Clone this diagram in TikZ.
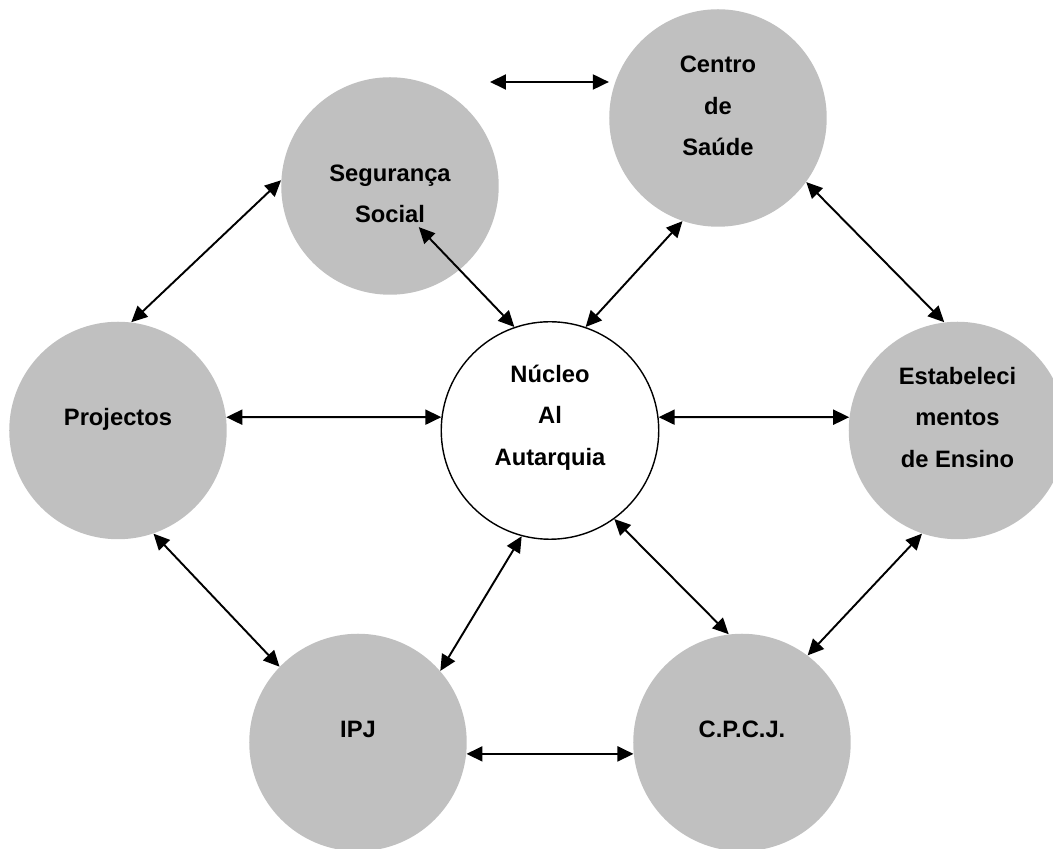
\documentclass[tikz,border=0pt]{standalone}
\usepackage{fontspec}
\setmainfont{Liberation Sans}
\usepackage{tikz}
\usetikzlibrary{calc,arrows.meta}
\definecolor{silverfill}{RGB}{192,192,192}
\tikzstyle{bubble}= [circle, fill=silverfill, inner sep=0pt, minimum size=4.35cm]
\tikzstyle{hub}= [circle, draw, fill=white, line width=0.8pt, inner sep=0pt, minimum size=4.35cm]
\tikzstyle{txt}= [align=center, font=\fontsize{13.5}{23.6}\selectfont\bfseries, inner sep=0pt]
\tikzstyle{link}= [{Triangle[length=3.2mm,width=3mm]}-{Triangle[length=3.2mm,width=3mm]}, line width=1.1pt]

\begin{document}
\begin{tikzpicture}
				\clip (-11,-8.37) rectangle (10.06,8.61);
				\node[hub, label={[txt,yshift=0.26cm]center:Núcleo\\Al\\Autarquia}] (nucleo) at (0, 0) {};
				\node[bubble, label={[txt,yshift=0.24cm]center:Centro\\de\\Saúde}] (csaude) at (3.36, 6.25) {};
				\node[bubble, label={[txt,yshift=-0.16cm]center:Segurança\\Social}] (ssocial) at (-3.2, 4.89) {};
				\node[bubble, label={[txt,yshift=0.22cm]center:Projectos}] (proj) at (-8.64, 0) {};
				\node[bubble, label={[txt,yshift=0.26cm]center:Estabeleci\\mentos\\de Ensino}] (estab) at (8.15, 0) {};
				\node[bubble, label={[txt,yshift=0.27cm]center:IPJ}] (ipj) at (-3.84, -6.24) {};
				\node[bubble, label={[txt,yshift=0.27cm]center:C.P.C.J.}] (cpcj) at (3.84, -6.24) {};
				\coordinate (free) at (-1.2, 6.97);
				\draw[link](free) -- (free -| csaude.west);
				\draw[link](ssocial.177) -- (proj.83);
				\draw[link]($(ssocial)!0.46!(ssocial.305)$) -- (nucleo.109);
				\draw[link](nucleo.71) -- (csaude.251);
				\draw[link](csaude.324) -- (estab.97);
				\draw[link](proj.7) -- (nucleo.173);
				\draw[link](nucleo.7) -- (estab.173);
				\draw[link](proj.289) -- (ipj.136);
				\draw[link](nucleo.255) -- (ipj.41);
				\draw[link](nucleo.306) -- (cpcj.97);
				\draw[link](estab.251) -- (cpcj.53);
				\draw[link](ipj.354) -- (cpcj.186);
			\end{tikzpicture}
\end{document}
